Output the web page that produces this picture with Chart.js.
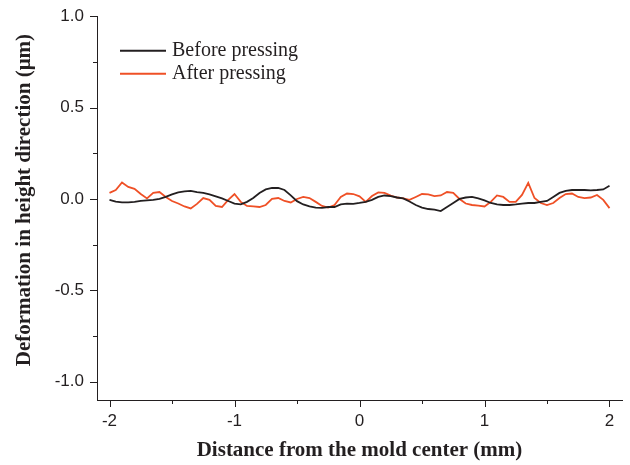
<!DOCTYPE html>
<html>
<head>
<meta charset="utf-8">
<script src="https://cdn.jsdelivr.net/npm/chart.js@4.4.1/dist/chart.umd.min.js"></script>
<style>
  html, body { margin: 0; padding: 0; background: #ffffff; }
  #wrap { width: 630px; height: 465px; position: relative; }
</style>
</head>
<body>
<div id="wrap"><canvas id="c" width="630" height="465"></canvas></div>
<script>
// Distance from the mold center (mm)
const distanceMm = [-2.00,-1.95,-1.90,-1.85,-1.80,-1.75,-1.70,-1.65,-1.60,-1.55,
  -1.50,-1.45,-1.40,-1.35,-1.30,-1.25,-1.20,-1.15,-1.10,-1.05,
  -1.00,-0.95,-0.90,-0.85,-0.80,-0.75,-0.70,-0.65,-0.60,-0.55,
  -0.50,-0.45,-0.40,-0.35,-0.30,-0.25,-0.20,-0.15,-0.10,-0.05,
  0.00,0.05,0.10,0.15,0.20,0.25,0.30,0.35,0.40,0.45,
  0.50,0.55,0.60,0.65,0.70,0.75,0.80,0.85,0.90,0.95,
  1.00,1.05,1.10,1.15,1.20,1.25,1.30,1.35,1.40,1.45,
  1.50,1.55,1.60,1.65,1.70,1.75,1.80,1.85,1.90,1.95,
  2.00];

// Deformation (μm) before pressing
const beforePressing = [-0.005,-0.014,-0.019,-0.019,-0.016,-0.011,-0.008,-0.005,0.000,0.011,
  0.025,0.036,0.041,0.044,0.038,0.033,0.025,0.014,0.003,-0.011,
  -0.025,-0.030,-0.016,0.005,0.033,0.052,0.060,0.060,0.049,0.020,
  -0.012,-0.030,-0.041,-0.047,-0.049,-0.044,-0.044,-0.030,-0.025,-0.027,
  -0.022,-0.016,-0.005,0.011,0.019,0.016,0.008,0.003,-0.014,-0.033,
  -0.047,-0.055,-0.058,-0.066,-0.044,-0.022,0.000,0.008,0.011,0.003,
  -0.008,-0.022,-0.030,-0.033,-0.033,-0.030,-0.025,-0.022,-0.022,-0.016,
  -0.011,0.011,0.033,0.044,0.049,0.049,0.049,0.047,0.049,0.052,
  0.072];

// Deformation (μm) after pressing
const afterPressing = [0.033,0.049,0.090,0.066,0.055,0.027,0.003,0.033,0.038,0.011,
  -0.011,-0.025,-0.041,-0.052,-0.027,0.005,-0.005,-0.038,-0.044,-0.005,
  0.027,-0.016,-0.038,-0.041,-0.044,-0.033,0.000,0.005,-0.011,-0.019,
  0.000,0.011,0.005,-0.016,-0.038,-0.047,-0.033,0.011,0.030,0.027,
  0.014,-0.016,0.016,0.036,0.033,0.019,0.008,0.003,-0.005,0.011,
  0.027,0.025,0.016,0.019,0.038,0.033,0.000,-0.025,-0.033,-0.036,
  -0.041,-0.016,0.019,0.011,-0.016,-0.016,0.022,0.088,0.005,-0.022,
  -0.033,-0.022,0.005,0.027,0.030,0.011,0.005,0.008,0.022,-0.005,
  -0.050];

const seriesNames = ['Before pressing', 'After pressing'];
const xTickValues = [-2, -1.5, -1, -0.5, 0, 0.5, 1, 1.5, 2];
const yTickValues = [-1, -0.75, -0.5, -0.25, 0, 0.25, 0.5, 0.75, 1];
const xTitle = 'Distance from the mold center (mm)';
const yTitle = 'Deformation in height direction (μm)';

const INK = '#231f20';
const RED = '#ef5026';

function isMajorX(v) { return Math.abs(v - Math.round(v)) < 1e-9; }
function isMajorY(v) { return Math.abs(v * 2 - Math.round(v * 2)) < 1e-9; }

// draws tick marks (major longer, minor shorter) on both axes
const axisTicks = {
  id: 'axisTicks',
  afterDraw(chart) {
    const ctx = chart.ctx;
    const xs = chart.scales.x, ys = chart.scales.y;
    ctx.save();
    ctx.strokeStyle = INK;
    ctx.lineWidth = 1;
    ctx.beginPath();
    xs.ticks.forEach(t => {
      const px = Math.round(xs.getPixelForValue(t.value)) + 0.5;
      const len = isMajorX(t.value) ? 7 : 4;
      ctx.moveTo(px, xs.top);
      ctx.lineTo(px, xs.top + len);
    });
    ys.ticks.forEach(t => {
      const py = Math.round(ys.getPixelForValue(t.value)) + 0.5;
      const len = isMajorY(t.value) ? 7 : 4;
      ctx.moveTo(ys.right, py);
      ctx.lineTo(ys.right - len, py);
    });
    ctx.stroke();
    ctx.restore();
  }
};

// vertical axis title, centred on the value 0.0 region as in the reference
const yAxisTitle = {
  id: 'yAxisTitle',
  afterDraw(chart) {
    const ctx = chart.ctx;
    const ca = chart.chartArea;
    ctx.save();
    ctx.font = 'bold 21px "Liberation Serif", "Times New Roman", serif';
    ctx.fillStyle = INK;
    ctx.textAlign = 'center';
    ctx.textBaseline = 'middle';
    ctx.translate(25, (ca.top + ca.bottom) / 2 - 8);
    ctx.rotate(-Math.PI / 2);
    ctx.fillText(yTitle, 0, 0);
    ctx.restore();
  }
};

// legend inside the plot area, top-left
const insideLegend = {
  id: 'insideLegend',
  afterDraw(chart) {
    const ctx = chart.ctx;
    const ca = chart.chartArea;
    ctx.save();
    ctx.font = '20px "Liberation Serif", "Times New Roman", serif';
    ctx.textBaseline = 'middle';
    ctx.textAlign = 'left';
    chart.data.datasets.forEach((ds, i) => {
      const y = ca.top + 34 + i * 23;
      const x0 = ca.left + 23;
      ctx.strokeStyle = ds.borderColor;
      ctx.lineWidth = 2;
      ctx.beginPath();
      ctx.moveTo(x0, y + 0.5);
      ctx.lineTo(x0 + 46, y + 0.5);
      ctx.stroke();
      ctx.fillStyle = INK;
      ctx.fillText(ds.label, x0 + 52, y + 1);
    });
    ctx.restore();
  }
};

const tickFont = { family: '"Liberation Sans", Arial, sans-serif', size: 17 };
const titleFont = { family: '"Liberation Serif", "Times New Roman", serif', size: 21, weight: 'bold' };

new Chart(document.getElementById('c'), {
  type: 'line',
  data: {
    datasets: [
      {
        label: seriesNames[0],
        data: distanceMm.map((x, i) => ({ x: x, y: beforePressing[i] })),
        borderColor: INK,
        borderWidth: 1.8,
        pointRadius: 0,
        tension: 0,
        fill: false
      },
      {
        label: seriesNames[1],
        data: distanceMm.map((x, i) => ({ x: x, y: afterPressing[i] })),
        borderColor: RED,
        borderWidth: 1.8,
        pointRadius: 0,
        tension: 0,
        fill: false
      }
    ]
  },
  options: {
    responsive: false,
    animation: false,
    devicePixelRatio: 1,
    layout: { padding: { left: 0, right: 8, top: 16, bottom: 0 } },
    plugins: {
      legend: { display: false },
      tooltip: { enabled: false },
      title: { display: false }
    },
    scales: {
      x: {
        type: 'linear',
        min: -2.1,
        max: 2.1,
        afterBuildTicks(scale) { scale.ticks = xTickValues.map(v => ({ value: v })); },
        afterFit(scale) { scale.height = 65; },
        ticks: {
          color: INK,
          font: tickFont,
          padding: 4,
          maxRotation: 0,
          autoSkip: false,
          callback: (v) => isMajorX(v) ? String(Math.round(v)) : ''
        },
        grid: {
          drawOnChartArea: false,
          drawTicks: true,
          tickLength: 7,
          color: 'rgba(0,0,0,0)'
        },
        border: { display: true, color: INK, width: 1 },
        title: {
          display: true,
          text: xTitle,
          color: INK,
          font: titleFont,
          padding: { top: 0, bottom: 2 }
        }
      },
      y: {
        type: 'linear',
        min: -1.1,
        max: 1.0,
        afterBuildTicks(scale) { scale.ticks = yTickValues.map(v => ({ value: v })); },
        afterFit(scale) { scale.width = 97; },
        ticks: {
          color: INK,
          font: tickFont,
          padding: 6,
          autoSkip: false,
          callback: (v) => isMajorY(v) ? v.toFixed(1) : ''
        },
        grid: {
          drawOnChartArea: false,
          drawTicks: true,
          tickLength: 7,
          color: 'rgba(0,0,0,0)'
        },
        border: { display: true, color: INK, width: 1 },
        title: { display: false }
      }
    }
  },
  plugins: [axisTicks, yAxisTitle, insideLegend]
});
</script>
</body>
</html>
